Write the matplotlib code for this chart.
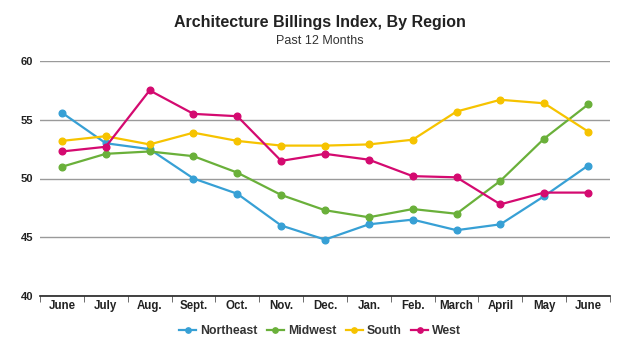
import matplotlib
matplotlib.use("Agg")
import matplotlib.pyplot as plt
from matplotlib.ticker import FixedLocator

plt.rcParams["font.family"] = ["Liberation Sans", "DejaVu Sans"]

# ── Data ──────────────────────────────────────────────────────────────────────
months = ["June", "July", "Aug.", "Sept.", "Oct.", "Nov.", "Dec.",
          "Jan.", "Feb.", "March", "April", "May", "June"]
northeast = [55.6, 53.0, 52.5, 50.0, 48.7, 46.0, 44.8, 46.1, 46.5, 45.6, 46.1, 48.5, 51.1]
midwest   = [51.0, 52.1, 52.3, 51.9, 50.5, 48.6, 47.3, 46.7, 47.4, 47.0, 49.8, 53.4, 56.3]
south     = [53.2, 53.6, 52.9, 53.9, 53.2, 52.8, 52.8, 52.9, 53.3, 55.7, 56.7, 56.4, 54.0]
west      = [52.3, 52.7, 57.5, 55.5, 55.3, 51.5, 52.1, 51.6, 50.2, 50.1, 47.8, 48.8, 48.8]

series = [("Northeast", northeast, "#37a0d5"),
          ("Midwest",   midwest,   "#6ab03a"),
          ("South",     south,     "#f6c300"),
          ("West",      west,      "#d40a70")]

fig = plt.figure(figsize=(6.4, 3.63), dpi=100)
ax = fig.add_axes([40 / 640, 1 - 296 / 363, 570 / 640, 235 / 363])

x = list(range(len(months)))
for name, vals, col in series:
    ax.plot(x, vals, color=col, lw=1.6, marker="o", ms=4.8, label=name, zorder=3)

ax.set_xlim(-0.5, len(months) - 0.5)
ax.set_ylim(40, 60)
ax.set_yticks([40, 45, 50, 55, 60])
ax.yaxis.grid(True, color="#9a9a9a", lw=1)
ax.set_axisbelow(True)

ax.set_xticks(x)
ax.set_xticklabels(months, fontsize=8.3, fontweight="bold", color="#222222")
ax.xaxis.set_minor_locator(FixedLocator([i - 0.5 for i in range(len(months) + 1)]))
ax.tick_params(axis="x", which="major", length=0, pad=3)
ax.tick_params(axis="x", which="minor", length=4, color="#555555", direction="out")
ax.tick_params(axis="y", length=0, labelsize=8, pad=5)
for lbl in ax.get_yticklabels():
    lbl.set_fontweight("bold")
    lbl.set_color("#222222")

for side in ["top", "right", "left"]:
    ax.spines[side].set_visible(False)
ax.spines["bottom"].set_color("#222222")
ax.spines["bottom"].set_linewidth(1.2)

fig.text(0.5, 1 - 23 / 363, "Architecture Billings Index, By Region",
         ha="center", va="center", fontsize=11.5, fontweight="bold", color="#222222")
fig.text(0.5, 1 - 41 / 363, "Past 12 Months",
         ha="center", va="center", fontsize=9, color="#333333")

leg = fig.legend(loc="center", bbox_to_anchor=(0.5, 1 - 331 / 363), ncol=4,
                 frameon=False, handlelength=1.4, columnspacing=0.8,
                 handletextpad=0.3, markerscale=0.8,
                 prop={"size": 8.8, "weight": "bold"})
for t in leg.get_texts():
    t.set_color("#333333")

fig.savefig("out.png", dpi=100)
